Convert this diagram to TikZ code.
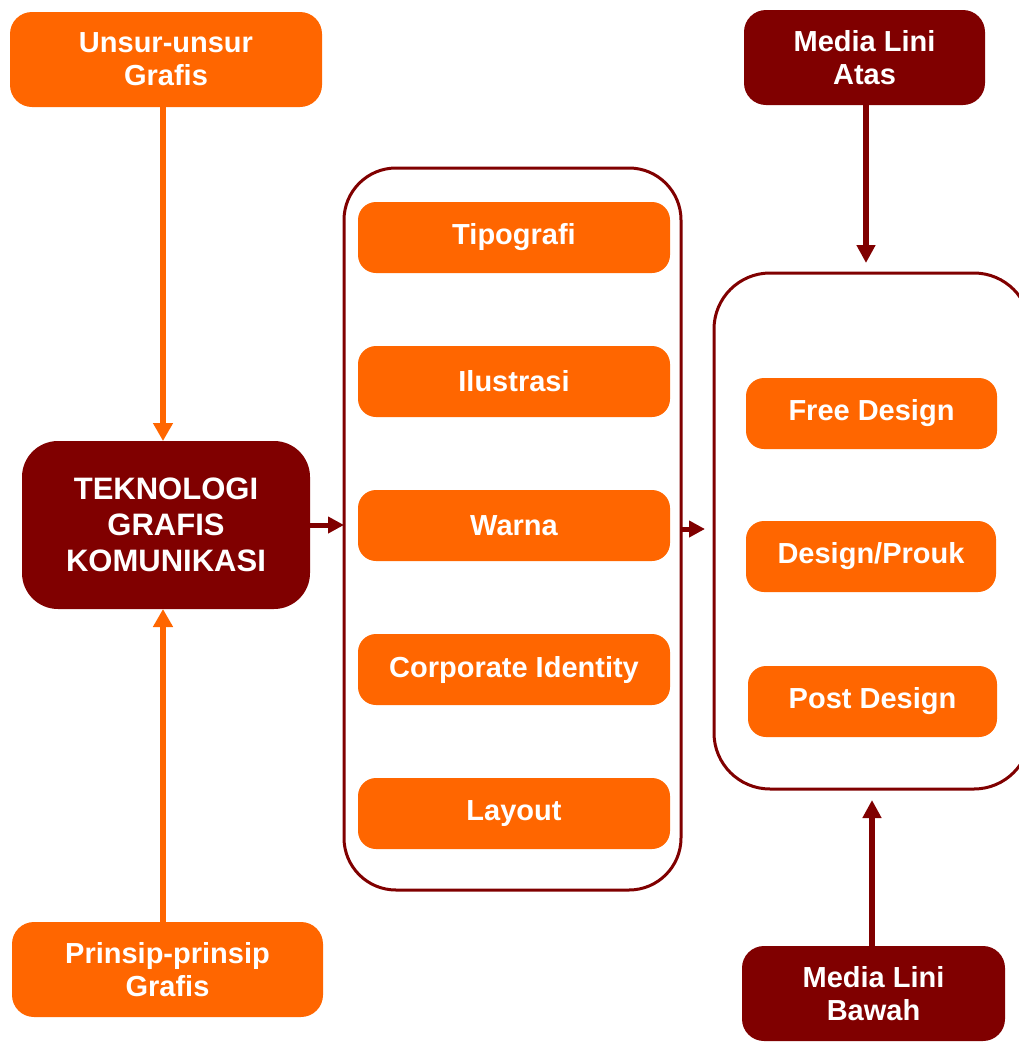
\documentclass[tikz,border=0pt]{standalone}
\usepackage{fontspec}
\setmainfont{Liberation Sans}
\usetikzlibrary{arrows.meta}
\definecolor{jingga}{HTML}{FF6600}
\definecolor{marun}{HTML}{800000}

\tikzset{
  kotak/.style={fill=jingga, rounded corners=18pt, text=white, align=center,
    font=\fontsize{29}{33}\selectfont\bfseries, inner sep=0pt, outer sep=0pt},
  kotakgelap/.style={kotak, fill=marun},
  wadah/.style={draw=marun, line width=3pt, rounded corners=52pt, inner sep=0pt, outer sep=0pt},
  panahjingga/.style={draw=jingga, line width=6pt, -{Triangle[length=18pt,width=19pt]}},
  panahmarun/.style={draw=marun, line width=6pt, -{Triangle[length=18pt,width=18pt]}},
  panahkecil/.style={draw=marun, line width=5pt, -{Triangle[length=16pt,width=16pt]}}
}

\begin{document}
\begin{tikzpicture}[x=1pt,y=-1pt]
\useasboundingbox (0,0) rectangle (1018,1042);

% kiri
\node[kotak, rounded corners=22pt, minimum width=312pt, minimum height=95pt] (unsur) at (166,59.5) {\raisebox{-3pt}{\parbox{300pt}{\centering Unsur-unsur\\Grafis}}};
\node[kotak, rounded corners=22pt, minimum width=311pt, minimum height=95pt] (prinsip) at (167.5,969.5) {\raisebox{-3pt}{\parbox{300pt}{\centering Prinsip-prinsip\\Grafis}}};
\node[kotakgelap, rounded corners=36pt, minimum width=288pt, minimum height=168pt,
  font=\fontsize{31}{36}\selectfont\bfseries] (teknologi) at (166,525) {\raisebox{4pt}{\parbox{280pt}{\centering TEKNOLOGI\\GRAFIS\\KOMUNIKASI}}};

% tengah
\node[wadah, minimum width=337pt, minimum height=722pt] (tengah) at (512.5,529) {};
\node[kotak, minimum width=312pt, minimum height=71pt] (tipografi) at (514,237.5) {Tipografi};
\node[kotak, minimum width=312pt, minimum height=71pt] (ilustrasi) at (514,381.5) {Ilustrasi};
\node[kotak, minimum width=312pt, minimum height=71pt] (warna) at (514,525.5) {Warna};
\node[kotak, minimum width=312pt, minimum height=71pt] (corporate) at (514,669.5) {Corporate Identity};
\node[kotak, minimum width=312pt, minimum height=71pt] (layout) at (514,813.5) {Layout};

% kanan
\node[wadah, rounded corners=56pt, minimum width=316pt, minimum height=516pt] (kanan) at (872,531) {};
\node[kotak, minimum width=251pt, minimum height=71pt] (free) at (871.5,413.5) {Free Design};
\node[kotak, minimum width=250pt, minimum height=71pt] (prouk) at (871,556.5) {Design/Prouk};
\node[kotak, minimum width=249pt, minimum height=71pt] (post) at (872.5,701.5) {Post Design};
\node[kotakgelap, rounded corners=22pt, minimum width=241pt, minimum height=95pt] (atas) at (864.5,57.5) {\raisebox{-3pt}{\parbox{230pt}{\centering Media Lini\\Atas}}};
\node[kotakgelap, rounded corners=22pt, minimum width=263pt, minimum height=95pt] (bawah) at (873.5,993.5) {\raisebox{-3pt}{\parbox{250pt}{\centering Media Lini\\Bawah}}};

% panah
\draw[panahjingga, transform canvas={xshift=-3pt}] (teknologi.north |- unsur.south) -- (teknologi.north);
\draw[panahjingga, transform canvas={xshift=-3pt}] (teknologi.south |- prinsip.north) -- (teknologi.south);
\draw[panahkecil] (teknologi.east) -- (teknologi.east -| tengah.west);
\draw[panahkecil, shorten >=9pt] (tengah.east) -- (tengah.east -| kanan.west);
\draw[panahmarun, shorten >=10pt, transform canvas={xshift=1.5pt}] (atas.south) -- (atas.south |- kanan.north);
\draw[panahmarun, shorten >=11pt, transform canvas={xshift=-1.5pt}] (bawah.north) -- (bawah.north |- kanan.south);
\end{tikzpicture}
\end{document}
